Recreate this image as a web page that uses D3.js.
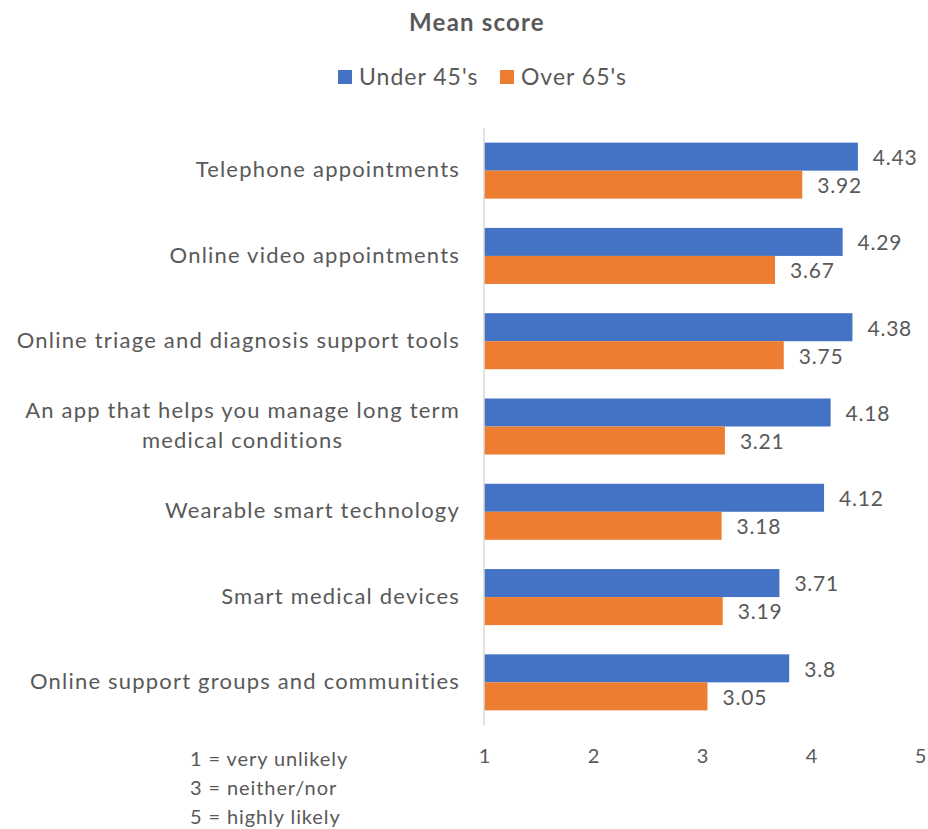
<!DOCTYPE html>
<html>
<head>
<meta charset="utf-8">
<script src="https://cdn.jsdelivr.net/npm/d3@7"></script>
<style>
  html, body { margin: 0; padding: 0; background: #fff; }
  text { font-family: Lato, "Open Sans", sans-serif; fill: #595959; }
</style>
</head>
<body>
<svg id="chart" width="928" height="829"></svg>
<script>
// Mean likelihood scores by age group
const categories = [
  "Telephone appointments",
  "Online video appointments",
  "Online triage and diagnosis support tools",
  "An app that helps you manage long term|medical conditions",
  "Wearable smart technology",
  "Smart medical devices",
  "Online support groups and communities"
];
const seriesNames = ["Under 45's", "Over 65's"];
const under45 = [4.43, 4.29, 4.38, 4.18, 4.12, 3.71, 3.8];
const over65 = [3.92, 3.67, 3.75, 3.21, 3.18, 3.19, 3.05];
const tickValues = [1, 2, 3, 4, 5];
const scaleNotes = ["1 = very unlikely", "3 = neither/nor", "5 = highly likely"];
const colors = ["#4472C4", "#ED7D31"];

const svg = d3.select("#chart");
const plot = { left: 484, right: 920, top: 128, bottom: 725 };

const x = d3.scaleLinear().domain([1, 5]).range([plot.left, plot.right]);
const y = d3.scaleBand().domain(d3.range(categories.length))
  .range([plot.top, plot.bottom]).paddingInner(0.343).paddingOuter(0.1715);
const ySub = d3.scaleBand().domain([0, 1]).range([0, y.bandwidth()]);

const rows = categories.map((c, i) => ({ label: c, values: [under45[i], over65[i]] }));

// Title
svg.append("text")
  .attr("x", 477).attr("y", 31)
  .attr("text-anchor", "middle")
  .style("font-size", "24px").style("font-weight", "bold")
  .style("letter-spacing", "1.2px")
  .text("Mean score");

// Legend
const legend = svg.append("g");
const legendX = [338, 500];
seriesNames.forEach((name, i) => {
  legend.append("rect")
    .attr("x", legendX[i]).attr("y", 70).attr("width", 14).attr("height", 14)
    .attr("fill", colors[i]);
  legend.append("text")
    .attr("x", legendX[i] + 21).attr("y", 85)
    .style("font-size", "23px")
    .style("letter-spacing", "1px")
    .text(name);
});

// Bars
const groups = svg.append("g").selectAll("g").data(rows).join("g")
  .attr("transform", (d, i) => `translate(0,${y(i)})`);

groups.selectAll("rect").data(d => d.values).join("rect")
  .attr("x", x(1))
  .attr("y", (v, j) => ySub(j))
  .attr("width", v => x(v) - x(1))
  .attr("height", ySub.bandwidth())
  .attr("fill", (v, j) => colors[j]);

groups.selectAll("text.value").data(d => d.values).join("text")
  .attr("class", "value")
  .attr("x", v => x(v) + 15)
  .attr("y", (v, j) => ySub(j) + ySub.bandwidth() / 2 + 1)
  .attr("dy", "0.35em")
  .style("font-size", "21px")
  .style("letter-spacing", "0.8px")
  .text(v => String(v));

// Category labels
groups.append("text")
  .attr("class", "cat")
  .attr("text-anchor", "end")
  .attr("x", plot.left - 24)
  .attr("y", y.bandwidth() / 2)
  .style("font-size", "22px")
  .style("letter-spacing", "1.2px")
  .each(function(d) {
    const lines = d.label.split("|");
    const t = d3.select(this);
    const lh = 30;
    lines.forEach((ln, k) => {
      t.append("tspan")
        .attr("x", plot.left - 24)
        .attr("y", y.bandwidth() / 2 - 1 + (k - (lines.length - 1) / 2) * lh)
        .attr("dy", "0.35em")
        .attr("text-anchor", lines.length > 1 ? "middle" : "end")
        .text(ln);
    });
  });
// centre two-line labels under their longest line
groups.each(function() {
  const spans = d3.select(this).select("text.cat").selectAll("tspan");
  if (spans.size() > 1) {
    let w = 0;
    spans.each(function() { w = Math.max(w, this.getComputedTextLength()); });
    spans.attr("x", plot.left - 24 - w / 2);
  }
});

// Vertical axis line
svg.append("line")
  .attr("x1", x(1)).attr("x2", x(1))
  .attr("y1", plot.top).attr("y2", plot.bottom)
  .attr("stroke", "#D9D9D9").attr("stroke-width", 1.5);

// X axis tick labels
const xAxis = d3.axisBottom(x).tickValues(tickValues).tickSize(0).tickPadding(0)
  .tickFormat(d3.format("d"));
const ax = svg.append("g").attr("transform", `translate(0,${plot.bottom + 24})`).call(xAxis);
ax.select(".domain").remove();
ax.selectAll("text").style("font-size", "20px").attr("fill", "#595959")
  .style("font-family", "Lato, 'Open Sans', sans-serif");

// Scale notes
svg.append("g").selectAll("text").data(scaleNotes).join("text")
  .attr("x", 190)
  .attr("y", (d, i) => 766 + i * 29)
  .style("font-size", "20px")
  .style("letter-spacing", "0.9px")
  .text(d => d);
</script>
</body>
</html>
